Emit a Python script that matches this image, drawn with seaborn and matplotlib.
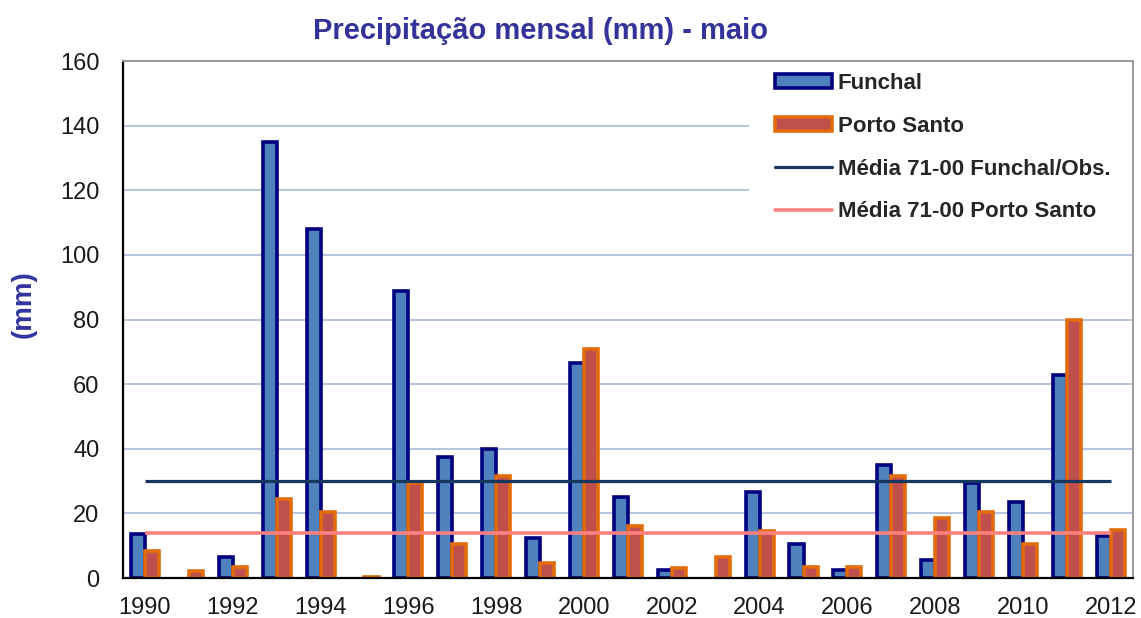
import numpy as np
import pandas as pd
import seaborn as sns
from matplotlib import pyplot as plt
from matplotlib.patches import Patch, Rectangle
from matplotlib.lines import Line2D

years = list(range(1990, 2013))
funchal = [13.5, 0, 6.5, 135, 108, 0, 89, 37.5, 40, 12.5, 66.5, 25, 2.5, 0,
           26.5, 10.5, 2.5, 35, 5.5, 29.5, 23.5, 63, 13]
porto_santo = [8.5, 2.2, 3.5, 24.5, 20.5, 0.4, 29.5, 10.5, 31.5, 4.8, 71, 16, 3,
               6.5, 14.5, 3.5, 3.5, 31.5, 18.5, 20.5, 10.5, 80, 15]
media_funchal = 30
media_porto_santo = 14
stations = ["Funchal", "Porto Santo"]
x_labels = [str(y) if y % 2 == 0 else "" for y in years]

df = pd.DataFrame({
    "ano": years * 2,
    "mm": funchal + porto_santo,
    "estacao": [stations[0]] * len(years) + [stations[1]] * len(years),
})

sns.set_style("white")
plt.rcParams["font.family"] = ["Liberation Sans", "DejaVu Sans"]

fig = plt.figure(figsize=(11.41, 6.18), dpi=100)
ax = fig.add_axes([0.1078, 0.0647, 0.885, 0.8363])

face = ["#4f81bd", "#c0504d"]
edge = ["#000080", "#e36c0a"]
sns.barplot(data=df, x="ano", y="mm", hue="estacao", palette=face, saturation=1,
            width=0.64, legend=False, ax=ax, zorder=2)
for cont, ec in zip(ax.containers, edge):
    for p in cont:
        p.set_edgecolor(ec)
        p.set_linewidth(2.6 if p.get_height() > 0 else 0)

ax.hlines(media_funchal, 0, len(years) - 1, color="#17375e", lw=2.3, zorder=3)
ax.hlines(media_porto_santo, 0, len(years) - 1, color="#ff8080", lw=2.6, zorder=3)

ax.set_xlim(-0.5, len(years) - 0.5)
ax.set_ylim(0, 160)
ax.set_yticks(range(0, 161, 20))
ax.yaxis.grid(True, color="#a9bad8", lw=1.2)
ax.set_axisbelow(True)

ax.set_xticks(range(len(years)))
ax.set_xticklabels(x_labels)
ax.set_xticks(np.arange(-0.5, len(years)), minor=True)
ax.tick_params(axis="x", which="major", length=0, pad=14, labelsize=17, labelcolor="#1a1a1a")
ax.tick_params(axis="x", which="minor", length=8, width=1.5, color="black", direction="out")
ax.tick_params(axis="y", length=7, width=1.5, color="black", direction="out", pad=10,
               labelsize=17, labelcolor="#1a1a1a")
ax.set_xlabel("")
ax.set_ylabel("(mm)", fontsize=20, fontweight="bold", color="#3333a0")
ax.yaxis.set_label_coords(-0.086, 0.53)

for s in ["left", "bottom"]:
    ax.spines[s].set_color("black")
    ax.spines[s].set_linewidth(1.6)
for s in ["top", "right"]:
    ax.spines[s].set_color("#9a9a9a")
    ax.spines[s].set_linewidth(1.4)

ax.set_title("Precipitação mensal (mm) - maio", fontsize=21, fontweight="bold",
             color="#333399", pad=16, x=0.413)

# white legend area hides the gridlines on the right
ax.add_patch(Rectangle((0.62, 0.655), 0.38, 0.345, transform=ax.transAxes,
                       facecolor="white", edgecolor="none", zorder=1.5))

handles = [
    Patch(facecolor=face[0], edgecolor=edge[0], linewidth=2.6),
    Patch(facecolor=face[1], edgecolor=edge[1], linewidth=2.6),
    Line2D([], [], color="#17375e", lw=2.3),
    Line2D([], [], color="#ff8080", lw=2.6),
]
labels = ["Funchal", "Porto Santo", "Média 71-00 Funchal/Obs.", "Média 71-00 Porto Santo"]
leg = ax.legend(handles, labels, loc="upper left", bbox_to_anchor=(0.646, 0.977),
                prop={"weight": "bold", "size": 16}, frameon=False,
                handlelength=2.55, handleheight=0.6, handletextpad=0.25,
                labelspacing=0.98, borderpad=0.0, borderaxespad=0.0)
leg.set_zorder(5)

fig.savefig("out.png", dpi=100)
